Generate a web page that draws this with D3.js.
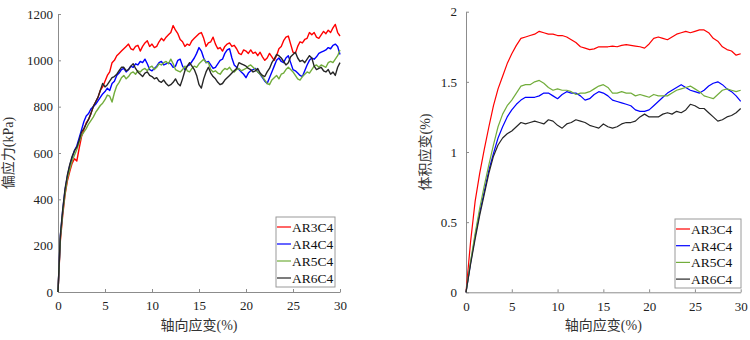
<!DOCTYPE html>
<html>
<head>
<meta charset="utf-8">
<script src="https://cdn.jsdelivr.net/npm/d3@7"></script>
<style>
  body { margin: 0; background: #fff; }
  svg { display: block; }
  svg text { font-family: "Liberation Serif", "Times New Roman", "Noto Sans CJK SC", serif !important; }
  .axis path, .axis line { stroke: #8c8c8c; }
  .axis text { fill: #222; }
  .line { fill: none; stroke-linejoin: round; }
</style>
</head>
<body>
<svg id="chart" width="750" height="340"></svg>
<script>
// series names + colours
var seriesNames = ["AR3C4", "AR4C4", "AR5C4", "AR6C4"];
var seriesColors = ["#ff0000", "#0000ff", "#72ad3c", "#262626"];

// tick labels
var strainTicks = [0, 5, 10, 15, 20, 25, 30];
var stressTicks = [0, 200, 400, 600, 800, 1000, 1200];
var volTicks = [0, 0.5, 1, 1.5, 2];

// left panel: deviator stress (kPa), sampled every 0.25 % axial strain
var strainLeft = d3.range(0, 30.001, 0.25);
var stressAR3C4 = [
  0, 220, 330, 420,  480, 520, 555, 575,  565, 620, 670, 700,  730, 745, 770, 800,
  820, 840, 870, 885,  910, 935, 950, 990,  1000, 1020, 1030, 1040,  1050, 1060, 1070, 1050,
  1045, 1060, 1065, 1040,  1060, 1075, 1085, 1060,  1070, 1055, 1060, 1080,  1095, 1085, 1100, 1110,
  1120, 1150, 1130, 1115,  1090, 1080, 1060, 1070,  1065, 1085, 1095, 1105,  1115, 1120, 1095, 1060,
  1075, 1080, 1100, 1070,  1050, 1055, 1040, 1060,  1070, 1075, 1060, 1065,  1050, 1030, 1025, 1045,
  1040, 1030, 1045, 1030,  1035, 1020, 1035, 1015,  1000, 1010, 1030, 1015,  1000, 1020, 1050, 1060,
  1085, 1100, 1105, 1070,  1035, 1030, 1060, 1080,  1075, 1090, 1095, 1120,  1110, 1120, 1100, 1095,
  1110, 1125, 1115, 1130,  1120, 1140, 1155, 1120,  1105
];
var stressAR4C4 = [
  0, 240, 350, 440,  500, 545, 580, 610,  630, 665, 700, 735,  760, 770, 790, 800,
  810, 825, 840, 855,  865, 880, 870, 900,  910, 935, 945, 960,  965, 950, 960, 975,
  970, 985, 980, 995,  990, 1005, 985, 960,  955, 965, 975, 990,  995, 980, 985, 990,
  985, 970, 975, 1000,  1005, 975, 960, 975,  980, 995, 1010, 1030,  1055, 1040, 1010, 990,
  995, 980, 965, 970,  985, 1000, 1005, 1030,  1045, 1050, 1010, 980,  970, 960, 950, 940,
  925, 945, 955, 960,  965, 950, 940, 925,  910, 900, 925, 950,  975, 1000, 1010, 995,
  990, 1010, 1020, 990,  960, 955, 945, 935,  930, 955, 980, 1000,  1010, 1005, 1015, 1030,
  1035, 1040, 1045, 1055,  1050, 1065, 1070, 1060,  1025
];
var stressAR5C4 = [
  0, 230, 340, 425,  490, 530, 565, 590,  615, 645, 675, 690,  705, 725, 740, 755,
  775, 790, 805, 815,  830, 850, 845, 820,  860, 890, 905, 925,  935, 920, 930, 945,
  950, 940, 955, 950,  960, 965, 955, 970,  975, 960, 970, 985,  980, 990, 995, 985,
  1005, 985, 960, 955,  950, 960, 975, 955,  950, 965, 975, 970,  985, 995, 1005, 990,
  990, 960, 950, 955,  945, 940, 955, 965,  960, 970, 955, 950,  960, 965, 955, 960,
  965, 975, 980, 970,  960, 950, 940, 930,  915, 900, 895, 915,  925, 935, 920, 940,
  945, 960, 970, 960,  950, 935, 920, 915,  930, 940, 950, 945,  960, 975, 980, 970,
  980, 975, 970, 990,  995, 990, 1005, 1020,  1045
];
var stressAR6C4 = [
  0, 245, 355, 445,  505, 550, 585, 610,  625, 655, 690, 705,  725, 745, 770, 800,
  820, 840, 870, 900,  885, 895, 910, 925,  930, 940, 955, 970,  970, 955, 960, 975,
  985, 965, 950, 940,  930, 945, 950, 935,  930, 920, 925, 910,  905, 915, 900, 890,
  895, 905, 920, 900,  890, 920, 955, 975,  990, 975, 960, 935,  895, 880, 920, 950,
  970, 945, 930, 920,  905, 895, 900, 915,  925, 935, 945, 955,  965, 990, 985, 980,
  975, 965, 960, 950,  955, 965, 945, 935,  930, 950, 965, 990,  1005, 1025, 1020, 1010,
  995, 980, 990, 1015,  1025, 1035, 1010, 995,  1000, 990, 1005, 1020,  1010, 975, 960, 965,
  970, 955, 950, 960,  940, 950, 935, 970,  990
];

// right panel: volumetric strain (%), sampled every 0.5 % axial strain
var strainRight = d3.range(0, 30.001, 0.5);
var volAR3C4 = [
  0, 0.36, 0.65, 0.85, 1.02, 1.18, 1.33, 1.45, 1.54, 1.63,
  1.70, 1.76, 1.81, 1.82, 1.83, 1.84, 1.86, 1.85, 1.84, 1.84,
  1.83, 1.83, 1.82, 1.80, 1.78, 1.75, 1.74, 1.73, 1.735, 1.75,
  1.75, 1.75, 1.755, 1.75, 1.76, 1.765, 1.76, 1.755, 1.75, 1.74,
  1.77, 1.81, 1.82, 1.81, 1.80, 1.82, 1.84, 1.85, 1.86, 1.85,
  1.86, 1.87, 1.87, 1.85, 1.81, 1.79, 1.75, 1.73, 1.72, 1.69,
  1.70
];
var volAR4C4 = [
  0, 0.21, 0.40, 0.57, 0.72, 0.87, 0.99, 1.10, 1.18, 1.25,
  1.30, 1.34, 1.37, 1.39, 1.39, 1.39, 1.40, 1.42, 1.42, 1.40,
  1.38, 1.41, 1.43, 1.42, 1.42, 1.40, 1.37, 1.38, 1.41, 1.43,
  1.42, 1.40, 1.37, 1.36, 1.35, 1.34, 1.33, 1.30, 1.29, 1.29,
  1.30, 1.33, 1.36, 1.39, 1.42, 1.44, 1.46, 1.48, 1.46, 1.44,
  1.43, 1.42, 1.44, 1.47, 1.49, 1.50, 1.48, 1.45, 1.43, 1.40,
  1.36
];
var volAR5C4 = [
  0, 0.22, 0.42, 0.60, 0.76, 0.91, 1.05, 1.18, 1.27, 1.33,
  1.37, 1.42, 1.47, 1.48, 1.48, 1.50, 1.51, 1.49, 1.46, 1.44,
  1.45, 1.44, 1.44, 1.43, 1.41, 1.42, 1.42, 1.43, 1.45, 1.47,
  1.48, 1.46, 1.42, 1.42, 1.43, 1.42, 1.42, 1.40, 1.41, 1.40,
  1.39, 1.41, 1.40, 1.40, 1.40, 1.42, 1.44, 1.45, 1.46, 1.47,
  1.45, 1.43, 1.40, 1.39, 1.38, 1.41, 1.44, 1.45, 1.44, 1.43,
  1.44
];
var volAR6C4 = [
  0, 0.20, 0.38, 0.55, 0.70, 0.85, 0.97, 1.05, 1.10, 1.13,
  1.15, 1.18, 1.21, 1.20, 1.21, 1.22, 1.21, 1.20, 1.23, 1.22,
  1.19, 1.17, 1.20, 1.21, 1.23, 1.22, 1.21, 1.19, 1.18, 1.17,
  1.20, 1.18, 1.17, 1.18, 1.20, 1.21, 1.21, 1.22, 1.25, 1.27,
  1.25, 1.25, 1.25, 1.27, 1.28, 1.27, 1.29, 1.28, 1.30, 1.34,
  1.33, 1.31, 1.31, 1.28, 1.25, 1.22, 1.23, 1.25, 1.26, 1.28,
  1.31
];

var svg = d3.select("#chart");
var serif = "'Liberation Serif', 'Times New Roman', 'Noto Sans CJK SC', serif";

function drawPanel(opt) {
  var x = d3.scaleLinear().domain([0, 30]).range([opt.left, opt.right]);
  var y = d3.scaleLinear().domain(opt.yDomain).range([opt.bottom, opt.top]);

  var g = svg.append("g");

  g.append("g")
    .attr("class", "axis")
    .attr("transform", "translate(0," + opt.bottom + ")")
    .call(d3.axisBottom(x).tickValues(strainTicks).tickFormat(d => String(d))
      .tickSizeInner(-3).tickSizeOuter(0).tickPadding(9))
    .attr("font-family", serif)
    .attr("font-size", 13);

  g.append("g")
    .attr("class", "axis")
    .attr("transform", "translate(" + opt.left + ",0)")
    .call(d3.axisLeft(y).tickValues(opt.yTicks).tickFormat(d => String(d))
      .tickSizeInner(-3).tickSizeOuter(0).tickPadding(opt.yPad))
    .attr("font-family", serif)
    .attr("font-size", 13);

  var line = d3.line()
    .x(d => x(d[0]))
    .y(d => y(d[1]));

  opt.series.forEach(function (vals, i) {
    var pts = opt.xs.map((s, k) => [s, vals[k]]);
    g.append("path")
      .datum(pts)
      .attr("class", "line")
      .attr("stroke", seriesColors[i])
      .attr("stroke-width", opt.lineWidth)
      .attr("d", line);
  });

  // axis titles
  g.append("text")
    .attr("transform", "translate(" + opt.yTitleX + "," + ((opt.top + opt.bottom) / 2) + ") rotate(-90)")
    .attr("text-anchor", "middle")
    .attr("font-size", 14)
    .attr("fill", "#333")
    .text(opt.yTitle);

  g.append("text")
    .attr("x", (opt.left + opt.right) / 2)
    .attr("y", 330)
    .attr("text-anchor", "middle")
    .attr("font-size", 14)
    .attr("fill", "#333")
    .text("轴向应变(%)");

  // legend
  var lg = opt.legend;
  g.append("rect")
    .attr("x", lg.x).attr("y", lg.y)
    .attr("width", lg.w).attr("height", lg.h)
    .attr("fill", "#fff")
    .attr("stroke", "#9a9a9a")
    .attr("stroke-width", 1);

  seriesNames.forEach(function (name, i) {
    var cy = lg.y + lg.first + i * lg.step;
    g.append("line")
      .attr("x1", lg.x + 1).attr("x2", lg.x + 15)
      .attr("y1", cy).attr("y2", cy)
      .attr("stroke", seriesColors[i])
      .attr("stroke-width", 1.2);
    g.append("text")
      .attr("x", lg.x + 16)
      .attr("y", cy + 5)
      .attr("font-size", 13.5)
      .attr("fill", "#111")
      .text(name);
  });
}

drawPanel({
  left: 58, right: 340, top: 14, bottom: 292,
  yDomain: [0, 1200], yTicks: stressTicks, yPad: 5,
  xs: strainLeft, lineWidth: 1.4,
  series: [stressAR3C4, stressAR4C4, stressAR5C4, stressAR6C4],
  yTitle: "偏应力(kPa)", yTitleX: 13,
  legend: { x: 276, y: 217, w: 59, h: 70, first: 10, step: 17 }
});

drawPanel({
  left: 466, right: 740.7, top: 11.7, bottom: 292.3,
  yDomain: [0, 2], yTicks: volTicks, yPad: 9,
  xs: strainRight, lineWidth: 1.2,
  series: [volAR3C4, volAR4C4, volAR5C4, volAR6C4],
  yTitle: "体积应变(%)", yTitleX: 430,
  legend: { x: 675, y: 219, w: 66, h: 69, first: 10, step: 16.7 }
});
</script>
</body>
</html>
